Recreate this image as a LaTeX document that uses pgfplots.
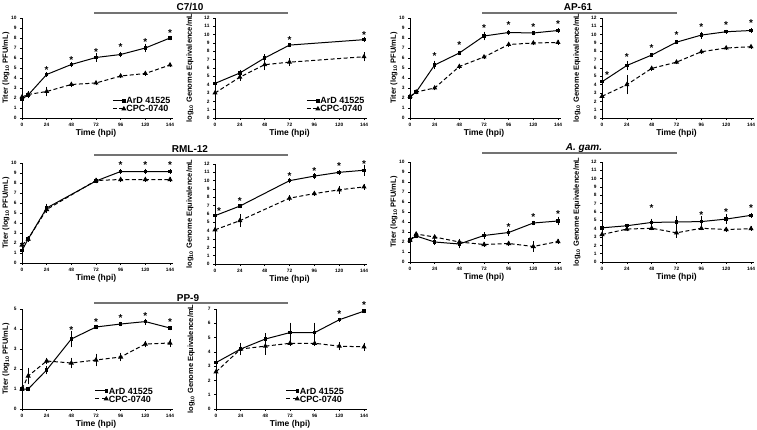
\documentclass[border=0pt]{standalone}
\usepackage{fontspec}
\setmainfont{Liberation Sans}
\usepackage{pgfplots}
\pgfplotsset{compat=1.18}
\usetikzlibrary{plotmarks}

\pgfplotsset{
  panel/.style={
    scale only axis, clip=false,
    xmin=0, xmax=144, ymin=0,
    xtick={0,24,48,72,96,120,144},
    axis lines=left,
    axis line style={-, line width=0.6pt},
    x axis line style={shorten >=-3pt},
    tick align=outside, major tick length=2pt,
    tick style={line width=0.5pt, black},
    /pgf/number format/assume math mode=true,
    tick label style={font=\fontsize{4.8}{5}\selectfont\bfseries},
    xlabel={Time (hpi)},
    xlabel style={font=\fontsize{8.5}{9}\selectfont\bfseries, at={(axis description cs:0.5,-0.15)}, anchor=center},
    ylabel style={font=\fontsize{7.5}{8}\selectfont\bfseries, anchor=center},
    legend cell align=left,
    legend style={draw=none, fill=none, font=\fontsize{9}{9}\selectfont\bfseries,
      nodes={inner sep=0.8pt, text height=6.2pt, text depth=0pt}, row sep=0.2pt},
    legend image code/.code={\draw[mark repeat=2,mark phase=2,#1] plot coordinates {(0pt,0pt) (11pt,0pt)};},
  },
  titer/.style={panel, width=148pt, height=100pt, ymax=10, ytick={0,...,10},
    ylabel={Titer (log\textsubscript{10} PFU/mL)},
    ylabel style={at={(axis description cs:-0.108,0.5)}}},
  genome/.style={panel, width=149pt, height=100pt, ymax=12, ytick={0,...,12},
    ylabel={log\textsubscript{10} Genome Equivalence/mL},
    ylabel style={at={(axis description cs:-0.168,0.5)}}},
  ard/.style={black, solid, line width=1pt, mark=square*, mark size=1.2pt, mark options={solid},
    error bars/y dir=both, error bars/y explicit,
    error bars/error bar style={line width=0.6pt, solid},
    error bars/error mark options={mark size=1.4pt, line width=0.6pt, solid}},
  cpc/.style={black, dash pattern=on 4pt off 2.5pt, line width=1pt, mark=triangle*, mark size=2pt, mark options={solid},
    error bars/y dir=both, error bars/y explicit,
    error bars/error bar style={line width=0.6pt, solid},
    error bars/error mark options={mark size=1.4pt, line width=0.6pt, solid}},
  star/.style={only marks, mark=text, text mark={\fontsize{10}{10}\selectfont\bfseries *}},
}

\begin{document}
\begin{tikzpicture}[x=1pt,y=1pt]
\useasboundingbox (0,0) rectangle (757,429);

% ---- titles ----
\node[font=\fontsize{10}{10}\selectfont\bfseries] at (190,422) {C7/10};
\draw[black!55, line width=1.2pt] (94,416) -- (288,416);
\node[font=\fontsize{10}{10}\selectfont\bfseries] at (578,422) {AP-61};
\draw[black!55, line width=1.2pt] (482,416) -- (677,416);
\node[font=\fontsize{10}{10}\selectfont\bfseries] at (190,280) {RML-12};
\draw[black!55, line width=1.2pt] (94,274) -- (288,274);
\node[font=\fontsize{10}{10}\selectfont\bfseries\itshape] at (584,281) {A. gam.};
\draw[black!55, line width=1.2pt] (482,276) -- (677,276);
\node[font=\fontsize{10}{10}\selectfont\bfseries] at (188,131) {PP-9};
\draw[black!55, line width=1.2pt] (94,126) -- (288,126);

% ---- C7/10 titer ----
\begin{axis}[titer, at={(22pt,311pt)}, anchor=south west,
  legend style={at={(1.03,0.03)}, anchor=south east}]
\addplot[ard] coordinates {(0,1.9)+-(0,0.15) (6,2.3)+-(0,0.2) (24,4.35)+-(0,0.1) (48,5.35)+-(0,0.15) (72,6.05)+-(0,0.3) (96,6.35)+-(0,0.15) (120,7.0)+-(0,0.3) (144,8.0)+-(0,0.1)};
\addplot[cpc] coordinates {(0,2.1)+-(0,0.2) (6,2.35)+-(0,0.2) (24,2.65)+-(0,0.35) (48,3.35)+-(0,0.15) (72,3.5)+-(0,0.1) (96,4.2)+-(0,0.1) (120,4.45)+-(0,0.1) (144,5.3)+-(0,0.1)};
\addplot[star, forget plot] coordinates {(24,4.75) (48,5.75) (72,6.55) (96,7.05) (120,7.6) (144,8.45)};
\legend{ArD 41525, CPC-0740}
\end{axis}

% ---- C7/10 genome ----
\begin{axis}[genome, at={(215pt,311pt)}, anchor=south west,
  legend style={at={(1.03,0.03)}, anchor=south east}]
\addplot[ard] coordinates {(0,4.15)+-(0,0.1) (24,5.4)+-(0,0.2) (48,7.2)+-(0,0.3) (72,8.75)+-(0,0.1) (144,9.4)+-(0,0.1)};
\addplot[cpc] coordinates {(0,3.0)+-(0,0.1) (24,4.9)+-(0,0.25) (48,6.4)+-(0,0.5) (72,6.7)+-(0,0.3) (144,7.35)+-(0,0.4)};
\addplot[star, forget plot] coordinates {(72,9.3) (144,9.9)};
\legend{ArD 41525, CPC-0740}
\end{axis}

% ---- AP-61 titer ----
\begin{axis}[titer, at={(410pt,311pt)}, anchor=south west]
\addplot[ard] coordinates {(0,2.1)+-(0,0.1) (6,2.6)+-(0,0.1) (24,5.3)+-(0,0.3) (48,6.5)+-(0,0.1) (72,8.2)+-(0,0.3) (96,8.55)+-(0,0.1) (120,8.5)+-(0,0.1) (144,8.75)+-(0,0.1)};
\addplot[cpc] coordinates {(0,2.15)+-(0,0.1) (6,2.6)+-(0,0.1) (24,3.0)+-(0,0.1) (48,5.15)+-(0,0.1) (72,6.1)+-(0,0.1) (96,7.35)+-(0,0.1) (120,7.5)+-(0,0.1) (144,7.55)+-(0,0.1)};
\addplot[star] coordinates {(24,6.15) (48,7.25) (72,9.0) (96,9.25) (120,9.1) (144,9.35)};
\end{axis}

% ---- AP-61 genome ----
\begin{axis}[genome, at={(602pt,311pt)}, anchor=south west]
\addplot[ard] coordinates {(0,4.35)+-(0,0.1) (24,6.3)+-(0,0.4) (48,7.55)+-(0,0.1) (72,9.1)+-(0,0.1) (96,9.95)+-(0,0.25) (120,10.35)+-(0,0.1) (144,10.5)+-(0,0.1)};
\addplot[cpc] coordinates {(0,2.6)+-(0,0.1) (24,4.0)+-(0,1.0) (48,5.95)+-(0,0.1) (72,6.7)+-(0,0.1) (96,7.95)+-(0,0.1) (120,8.4)+-(0,0.1) (144,8.55)+-(0,0.1)};
\addplot[star] coordinates {(5,5.2) (24,7.3) (48,8.4) (72,9.9) (96,10.9) (120,11.2) (144,11.35)};
\end{axis}

% ---- RML-12 titer ----
\begin{axis}[titer, at={(22pt,166pt)}, anchor=south west]
\addplot[ard] coordinates {(0,1.25)+-(0,0.15) (6,2.4)+-(0,0.15) (24,5.5)+-(0,0.3) (72,8.2)+-(0,0.1) (96,9.15)+-(0,0.1) (120,9.15)+-(0,0.15) (144,9.15)+-(0,0.1)};
\addplot[cpc] coordinates {(0,1.8)+-(0,0.2) (6,2.4)+-(0,0.1) (24,5.35)+-(0,0.2) (72,8.25)+-(0,0.15) (96,8.35)+-(0,0.15) (120,8.35)+-(0,0.1) (144,8.35)+-(0,0.1)};
\addplot[star] coordinates {(96,9.75) (120,9.75) (144,9.75)};
\end{axis}

% ---- RML-12 genome ----
\begin{axis}[genome, at={(215pt,165pt)}, anchor=south west]
\addplot[ard] coordinates {(0,5.8)+-(0,0.1) (24,6.95)+-(0,0.1) (72,10.0)+-(0,0.15) (96,10.55)+-(0,0.2) (120,11.0)+-(0,0.1) (144,11.25)+-(0,0.5)};
\addplot[cpc] coordinates {(0,4.1)+-(0,0.1) (24,5.2)+-(0,0.6) (72,7.9)+-(0,0.2) (96,8.45)+-(0,0.1) (120,8.9)+-(0,0.3) (144,9.25)+-(0,0.2)};
\addplot[star] coordinates {(4,6.35) (24,7.55) (72,10.6) (96,11.2) (120,11.7) (144,12.0)};
\end{axis}

% ---- A. gam. titer ----
\begin{axis}[titer, at={(410pt,167pt)}, anchor=south west]
\addplot[ard] coordinates {(0,2.2)+-(0,0.3) (6,2.6)+-(0,0.1) (24,2.0)+-(0,0.15) (48,1.8)+-(0,0.3) (72,2.65)+-(0,0.2) (96,2.95)+-(0,0.25) (120,3.9)+-(0,0.1) (144,4.1)+-(0,0.3)};
\addplot[cpc] coordinates {(0,2.2)+-(0,0.2) (6,2.8)+-(0,0.1) (24,2.5)+-(0,0.1) (48,2.0)+-(0,0.2) (72,1.75)+-(0,0.1) (96,1.85)+-(0,0.1) (120,1.55)+-(0,0.4) (144,2.05)+-(0,0.1)};
\addplot[star] coordinates {(96,3.5) (120,4.45) (144,4.75)};
\end{axis}

% ---- A. gam. genome ----
\begin{axis}[genome, at={(602pt,167pt)}, anchor=south west]
\addplot[ard] coordinates {(0,4.1)+-(0,0.1) (24,4.35)+-(0,0.1) (48,4.75)+-(0,0.3) (72,4.8)+-(0,0.6) (96,4.85)+-(0,0.5) (120,5.15)+-(0,0.4) (144,5.6)+-(0,0.1)};
\addplot[cpc] coordinates {(0,3.3)+-(0,0.1) (24,3.95)+-(0,0.1) (48,4.05)+-(0,0.1) (72,3.5)+-(0,0.4) (96,4.05)+-(0,0.1) (120,3.9)+-(0,0.1) (144,4.0)+-(0,0.1)};
\addplot[star] coordinates {(48,6.5) (96,5.65) (120,5.95) (144,6.5)};
\end{axis}

% ---- PP-9 titer ----
\begin{axis}[titer, at={(22pt,20pt)}, anchor=south west, ymax=5, ytick={0,...,5},
  legend style={at={(0.47,0.04)}, anchor=south west}]
\addplot[ard] coordinates {(0,1.0)+-(0,0.05) (6,1.0)+-(0,0.05) (24,1.95)+-(0,0.15) (48,3.5)+-(0,0.35) (72,4.1)+-(0,0.05) (96,4.25)+-(0,0.05) (120,4.37)+-(0,0.08) (144,4.05)+-(0,0.05)};
\addplot[cpc] coordinates {(0,1.0)+-(0,0.05) (6,1.65)+-(0,0.35) (24,2.4)+-(0,0.1) (48,2.3)+-(0,0.2) (72,2.45)+-(0,0.25) (96,2.6)+-(0,0.15) (120,3.25)+-(0,0.1) (144,3.3)+-(0,0.15)};
\addplot[star, forget plot] coordinates {(48,3.93) (72,4.36) (96,4.53) (120,4.66) (144,4.36)};
\legend{ArD 41525, CPC-0740}
\end{axis}

% ---- PP-9 genome ----
\begin{axis}[genome, at={(216pt,20pt)}, anchor=south west, width=148pt, ymax=7, ytick={0,...,7},
  legend style={at={(0.45,0.04)}, anchor=south west}]
\addplot[ard] coordinates {(0,3.25)+-(0,0.1) (24,4.2)+-(0,0.1) (48,4.9)+-(0,0.3) (72,5.35)+-(0,0.6) (96,5.35)+-(0,0.6) (120,6.25)+-(0,0.05) (144,6.85)+-(0,0.05)};
\addplot[cpc] coordinates {(0,2.6)+-(0,0.1) (24,4.2)+-(0,0.35) (48,4.4)+-(0,0.5) (72,4.6)+-(0,0.1) (96,4.6)+-(0,0.1) (120,4.4)+-(0,0.2) (144,4.35)+-(0,0.2)};
\addplot[star, forget plot] coordinates {(120,6.65) (144,7.3)};
\legend{ArD 41525, CPC-0740}
\end{axis}
\end{tikzpicture}
\end{document}
